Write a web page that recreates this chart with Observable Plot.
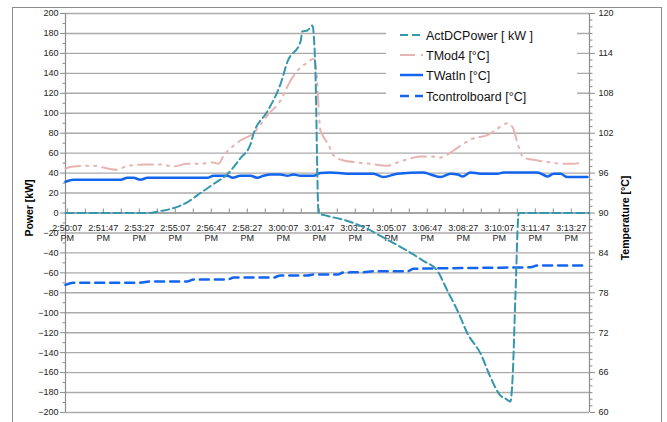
<!DOCTYPE html>
<html><head><meta charset="utf-8">
<script src="https://cdn.jsdelivr.net/npm/d3@7"></script>
<script src="https://cdn.jsdelivr.net/npm/@observablehq/plot@0.6"></script>
<style>
body{margin:0;background:#fff;font-family:"Liberation Sans",Arial,sans-serif;}
#wrap{position:relative;width:667px;height:422px;overflow:hidden;}
#frame{position:absolute;left:12px;top:7px;width:648px;height:440px;border:1px solid #8c8c8c;pointer-events:none;}
#legend{position:absolute;left:386px;top:15px;width:191px;height:94px;background:#fff;}
.ttl{position:absolute;font-weight:bold;font-size:10.5px;color:#000;white-space:nowrap;transform:translate(-50%,-50%) rotate(-90deg);}
</style></head><body><div id="wrap"></div>
<script>
// x tick labels (category labels every 100 s)
const timeLabels = ["2:50:07","2:51:47","2:53:27","2:55:07","2:56:47","2:58:27","3:00:07","3:01:47","3:03:27","3:05:07","3:06:47","3:08:27","3:10:07","3:11:47","3:13:27"];
const tickSec = [5,105,205,305,405,505,605,705,805,905,1005,1105,1205,1305,1405];

// ActDCPower [kW] (left axis)
const powerSec = [0,236,264,292,339,375,411,450,486,514,522,561,597,617,653,658,672,686,694,703,728,764,800,839,875,950,994,1033,1061,1089,1117,1153,1181,1208,1222,1236,1242,1250,1259,1455];
const powerKW  = [0,0,2,4,11,20,29,39,55,69,79,102,129,152,172,182,183,188,145,0,-3,-6,-10,-16,-23,-38,-48,-58,-78,-98,-121,-141,-165,-183,-186,-189,-165,-81,0,0];

// TMod4 [°C] (right axis)
const tmodSec = [0,22,78,117,144,172,228,264,300,339,375,411,425,439,458,486,522,561,597,625,653,672,689,697,703,708,714,731,744,772,811,847,894,922,958,986,1014,1042,1078,1106,1133,1172,1200,1228,1242,1256,1272,1311,1347,1383,1411,1431];
const tmodC  = [96.7,97.0,97.1,96.7,96.5,97.1,97.3,97.3,97.0,97.4,97.4,97.6,97.4,98.6,99.7,100.9,102.0,104.7,106.9,109.9,111.9,112.6,113.2,111.4,105.9,102.4,101.7,100.2,98.7,97.9,97.6,97.4,97.1,97.6,98.2,98.5,98.5,98.35,99.4,100.45,101.2,101.7,102.7,103.5,102.9,100.45,98.35,97.9,97.6,97.4,97.4,97.6];

// TWatIn [°C] (right axis)
const watSec = [0,22,153,172,189,208,228,394,411,450,464,486,514,533,550,569,597,617,633,653,689,708,736,783,856,883,922,994,1014,1042,1069,1089,1103,1125,1153,1200,1217,1311,1339,1356,1375,1394,1450];
const watC   = [94.7,95.0,95.0,95.3,95.3,95.0,95.3,95.3,95.6,95.6,95.3,95.6,95.6,95.3,95.6,95.8,95.8,95.6,95.8,95.6,95.6,96.0,96.1,95.9,95.9,95.4,95.9,96.1,95.8,95.4,95.9,95.8,95.5,96.1,95.9,95.9,96.1,96.1,95.5,95.9,95.9,95.4,95.4];

// Tcontrolboard [°C] (right axis)
const ctrlSec = [0,22,200,236,339,356,450,467,578,597,672,689,756,772,828,856,950,967,1153,1292,1311,1450];
const ctrlC   = [79.2,79.5,79.5,79.7,79.7,80.0,80.0,80.3,80.3,80.6,80.6,80.75,80.75,81.05,81.1,81.25,81.25,81.6,81.75,81.85,82.1,82.1];

const seriesNames = ["ActDCPower [ kW ]","TMod4 [°C]","TWatIn [°C]","Tcontrolboard [°C]"];
const seriesColors = ["#3596ae","#e6b4b1","#1465ee","#1465ee"];
const seriesDash = ["8,4","15,6,2,6,2,6",null,"9,6"];
const seriesWidth = [2,2,2.5,2.5];

// temperature (°C) -> left-axis units: 60..120 °C  <->  -200..200
const tY = T => (T - 90) * 200 / 30;

const power = powerSec.map((t,i)=>({t, v: powerKW[i]}));
const tmod = tmodSec.map((t,i)=>({t, v: tY(tmodC[i])}));
const wat = watSec.map((t,i)=>({t, v: tY(watC[i])}));
const ctrl = ctrlSec.map((t,i)=>({t, v: tY(ctrlC[i])}));

const xMax = 1455.6;
const grid = d3.range(-200, 201, 20);
const minorL = d3.range(-190, 200, 20);
const majorR = d3.range(-200, 201, 40);
const minorR = d3.range(60, 121, 1).filter(d => d % 6 !== 0).map(tY);
const xMinor = d3.range(5, 1455, 50);

const chart = Plot.plot({
  width: 667, height: 422,
  marginLeft: 65, marginRight: 78, marginTop: 13, marginBottom: 10,
  x: {domain: [0, xMax], axis: null},
  y: {domain: [-200, 200], axis: null},
  style: {fontFamily: '"Liberation Sans", Arial, sans-serif', fontSize: "9px", color: "#222", background: "transparent", overflow: "visible"},
  marks: [
    Plot.ruleY(grid, {stroke: "#ababab", strokeWidth: 1.4}),
    Plot.ruleY([0], {stroke: "#8c8c8c", strokeWidth: 1.2}),
    Plot.ruleX(xMinor, {x: d => d, y1: () => 0, y2: () => 4, stroke: "#8c8c8c"}),
    Plot.ruleX([0], {stroke: "#8c8c8c", strokeWidth: 1.2}),
    Plot.ruleX([xMax], {stroke: "#8c8c8c", strokeWidth: 1.2}),
    Plot.axisY(grid, {anchor: "left", tickSize: 5, tickPadding: 2, label: null, stroke: "#8c8c8c", fill: "#222"}),
    Plot.axisY(minorL, {anchor: "left", tickSize: 2.5, tickFormat: () => "", label: null, stroke: "#8c8c8c"}),
    Plot.axisY(majorR, {anchor: "right", tickSize: 5, tickPadding: 4, label: null, tickFormat: d => String(Math.round(90 + d * 0.15)), stroke: "#8c8c8c", fill: "#222"}),
    Plot.axisY(minorR, {anchor: "right", tickSize: 2.5, tickFormat: () => "", label: null, stroke: "#8c8c8c"}),
    Plot.text(tickSec, {x: d => d, y: () => 0, text: (d, i) => timeLabels[i] + "\nPM", dy: 20, lineHeight: 1.12, fontSize: 9, fill: "#222"}),
    Plot.line(ctrl, {x: "t", y: "v", stroke: seriesColors[3], strokeWidth: seriesWidth[3], strokeDasharray: seriesDash[3], curve: "monotone-x"}),
    Plot.line(wat, {x: "t", y: "v", stroke: seriesColors[2], strokeWidth: seriesWidth[2], curve: "monotone-x"}),
    Plot.line(tmod, {x: "t", y: "v", stroke: seriesColors[1], strokeWidth: seriesWidth[1], strokeDasharray: seriesDash[1], curve: "monotone-x"}),
    Plot.line(power, {x: "t", y: "v", stroke: seriesColors[0], strokeWidth: seriesWidth[0], strokeDasharray: seriesDash[0], curve: "monotone-x"})
  ]
});

const wrap = document.getElementById("wrap");
wrap.appendChild(chart);

// legend box (white background hides grid lines behind it)
const leg = document.createElement("div");
leg.id = "legend";
let svg = '<svg width="191" height="94" xmlns="http://www.w3.org/2000/svg">';
const rowsY = [20, 40, 60, 81];
seriesNames.forEach((name, i) => {
  const y = rowsY[i];
  const dash = seriesDash[i] ? ` stroke-dasharray="${seriesDash[i]}"` : "";
  svg += `<line x1="14" x2="37" y1="${y}" y2="${y}" stroke="${seriesColors[i]}" stroke-width="${seriesWidth[i]}"${dash}/>`;
  svg += `<text x="40" y="${y + 4.5}" font-size="12.5" font-family="Liberation Sans, Arial, sans-serif" fill="#111">${name}</text>`;
});
svg += "</svg>";
leg.innerHTML = svg;
wrap.appendChild(leg);

const frame = document.createElement("div");
frame.id = "frame";
wrap.appendChild(frame);

const t1 = document.createElement("div");
t1.className = "ttl"; t1.textContent = "Power [kW]";
t1.style.left = "29px"; t1.style.top = "208px";
wrap.appendChild(t1);
const t2 = document.createElement("div");
t2.className = "ttl"; t2.textContent = "Temperature [°C]";
t2.style.left = "625px"; t2.style.top = "218px";
wrap.appendChild(t2);
</script></body></html>
